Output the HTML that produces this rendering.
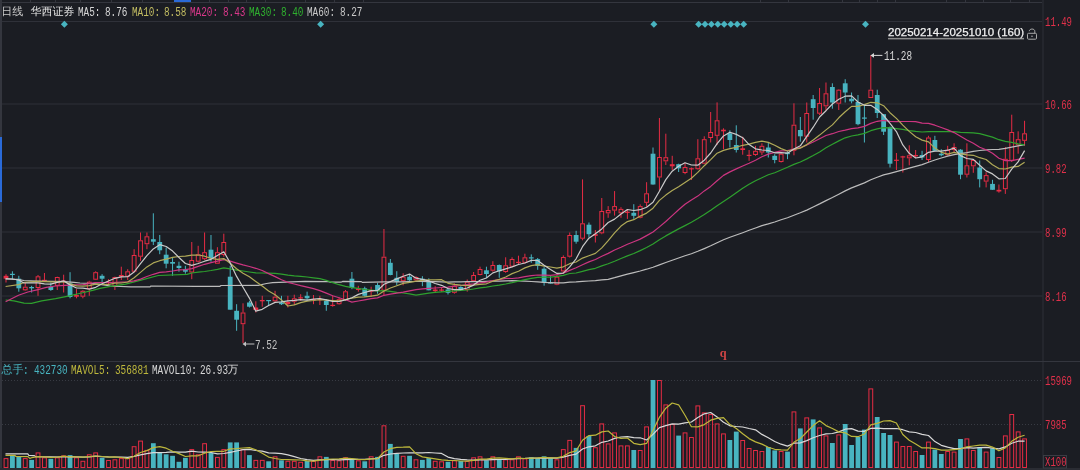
<!DOCTYPE html>
<html><head><meta charset="utf-8">
<style>
html,body{margin:0;padding:0;background:#1b1d23;}
body{width:1080px;height:470px;overflow:hidden;position:relative;}
.a{position:absolute;white-space:pre;line-height:1;}
.m{font-family:"Liberation Mono",monospace;font-size:12px;transform:scaleX(0.78);transform-origin:0 0;}
.cj{font-family:"Liberation Sans","WenQuanYi Zen Hei",sans-serif;font-size:11px;}
svg{position:absolute;left:0;top:0;}
.wrap{position:absolute;left:0;top:0;width:1080px;height:470px;filter:blur(0.4px);}
</style></head><body><div class="wrap">
<svg width="1080" height="470" viewBox="0 0 1080 470">
<rect x="0" y="2" width="1042" height="1" fill="#34363e"/>
<rect x="30" y="0" width="1" height="2" fill="#34363e"/><rect x="55" y="0" width="1" height="2" fill="#34363e"/><rect x="80" y="0" width="1" height="2" fill="#34363e"/><rect x="111" y="0" width="1" height="2" fill="#34363e"/><rect x="142" y="0" width="1" height="2" fill="#34363e"/><rect x="209" y="0" width="1" height="2" fill="#34363e"/><rect x="228" y="0" width="1" height="2" fill="#34363e"/><rect x="246" y="0" width="1" height="2" fill="#34363e"/><rect x="265" y="0" width="1" height="2" fill="#34363e"/><rect x="305" y="0" width="1" height="2" fill="#34363e"/><rect x="334" y="0" width="1" height="2" fill="#34363e"/><rect x="363" y="0" width="1" height="2" fill="#34363e"/><rect x="760" y="0" width="1" height="2" fill="#34363e"/><rect x="788" y="0" width="1" height="2" fill="#34363e"/><rect x="842" y="0" width="1" height="2" fill="#34363e"/><rect x="859" y="0" width="1" height="2" fill="#34363e"/><rect x="877" y="0" width="1" height="2" fill="#34363e"/><rect x="895" y="0" width="1" height="2" fill="#34363e"/><rect x="946" y="0" width="1" height="2" fill="#34363e"/><rect x="965" y="0" width="1" height="2" fill="#34363e"/><rect x="983" y="0" width="1" height="2" fill="#34363e"/><rect x="1010" y="0" width="1" height="2" fill="#34363e"/><rect x="1029" y="0" width="1" height="2" fill="#34363e"/>
<rect x="174" y="0" width="17" height="2" fill="#2a6ad8"/>
<rect x="0" y="0" width="2" height="470" fill="#34363e"/>
<rect x="0" y="137" width="2" height="65" fill="#2a6ad8"/>
<rect x="2" y="21" width="1040" height="1" fill="#2f3139"/>
<rect x="1042.5" y="0" width="1" height="470" fill="#2f3139"/>
<rect x="0" y="361" width="1080" height="1" fill="#34363e"/>
<rect x="0" y="468" width="1080" height="2" fill="#2a2c33"/>
<line x1="2" y1="104" x2="1042.5" y2="104" stroke="#2f3139" stroke-width="1"/>
<line x1="2" y1="168" x2="1042.5" y2="168" stroke="#2f3139" stroke-width="1"/>
<line x1="2" y1="232" x2="1042.5" y2="232" stroke="#2f3139" stroke-width="1"/>
<line x1="2" y1="296" x2="1042.5" y2="296" stroke="#2f3139" stroke-width="1"/>
<line x1="2" y1="380.5" x2="1042" y2="380.5" stroke="#383b43" stroke-width="1" stroke-dasharray="1 2"/>
<line x1="2" y1="424.5" x2="1042" y2="424.5" stroke="#383b43" stroke-width="1" stroke-dasharray="1 2"/>
<line x1="6.00" y1="274.2" x2="6.00" y2="282.5" stroke="#e62c44" stroke-width="1"/>
<rect x="3.60" y="275.8" width="4.8" height="2.9" fill="#e62c44"/>
<line x1="12.41" y1="271.3" x2="12.41" y2="279.2" stroke="#48b4c0" stroke-width="1"/>
<rect x="10.01" y="273.8" width="4.8" height="1.2" fill="#48b4c0"/>
<line x1="18.81" y1="275.8" x2="18.81" y2="291.7" stroke="#48b4c0" stroke-width="1"/>
<rect x="16.41" y="278.7" width="4.8" height="9.6" fill="#48b4c0"/>
<line x1="25.22" y1="282.5" x2="25.22" y2="286.7" stroke="#e62c44" stroke-width="1"/>
<line x1="25.22" y1="290.3" x2="25.22" y2="290.8" stroke="#e62c44" stroke-width="1"/>
<rect x="23.32" y="287.2" width="3.8" height="2.6" fill="none" stroke="#e62c44" stroke-width="1"/>
<line x1="31.62" y1="285.8" x2="31.62" y2="292.5" stroke="#48b4c0" stroke-width="1"/>
<rect x="29.22" y="287.0" width="4.8" height="1.3" fill="#48b4c0"/>
<line x1="38.03" y1="275.0" x2="38.03" y2="276.3" stroke="#e62c44" stroke-width="1"/>
<line x1="38.03" y1="288.0" x2="38.03" y2="295.8" stroke="#e62c44" stroke-width="1"/>
<rect x="36.13" y="276.8" width="3.8" height="10.7" fill="none" stroke="#e62c44" stroke-width="1"/>
<line x1="44.44" y1="273.0" x2="44.44" y2="281.0" stroke="#e62c44" stroke-width="1"/>
<rect x="42.04" y="279.8" width="4.8" height="1.2" fill="#e62c44"/>
<line x1="50.84" y1="282.5" x2="50.84" y2="290.8" stroke="#48b4c0" stroke-width="1"/>
<rect x="48.44" y="286.7" width="4.8" height="3.3" fill="#48b4c0"/>
<line x1="57.25" y1="276.7" x2="57.25" y2="277.0" stroke="#e62c44" stroke-width="1"/>
<line x1="57.25" y1="285.8" x2="57.25" y2="290.0" stroke="#e62c44" stroke-width="1"/>
<rect x="55.35" y="277.5" width="3.8" height="7.8" fill="none" stroke="#e62c44" stroke-width="1"/>
<line x1="63.65" y1="274.7" x2="63.65" y2="292.5" stroke="#e62c44" stroke-width="1"/>
<rect x="61.25" y="280.6" width="4.8" height="1.2" fill="#e62c44"/>
<line x1="70.06" y1="272.2" x2="70.06" y2="298.3" stroke="#48b4c0" stroke-width="1"/>
<rect x="67.66" y="283.3" width="4.8" height="13.7" fill="#48b4c0"/>
<line x1="76.47" y1="289.2" x2="76.47" y2="298.3" stroke="#e62c44" stroke-width="1"/>
<rect x="74.07" y="295.0" width="4.8" height="1.7" fill="#e62c44"/>
<line x1="82.87" y1="290.0" x2="82.87" y2="290.8" stroke="#e62c44" stroke-width="1"/>
<line x1="82.87" y1="296.7" x2="82.87" y2="298.3" stroke="#e62c44" stroke-width="1"/>
<rect x="80.97" y="291.3" width="3.8" height="4.9" fill="none" stroke="#e62c44" stroke-width="1"/>
<line x1="89.28" y1="280.8" x2="89.28" y2="281.7" stroke="#e62c44" stroke-width="1"/>
<line x1="89.28" y1="289.2" x2="89.28" y2="295.8" stroke="#e62c44" stroke-width="1"/>
<rect x="87.38" y="282.2" width="3.8" height="6.5" fill="none" stroke="#e62c44" stroke-width="1"/>
<line x1="95.68" y1="271.3" x2="95.68" y2="272.2" stroke="#e62c44" stroke-width="1"/>
<line x1="95.68" y1="279.7" x2="95.68" y2="280.0" stroke="#e62c44" stroke-width="1"/>
<rect x="93.78" y="272.7" width="3.8" height="6.5" fill="none" stroke="#e62c44" stroke-width="1"/>
<line x1="102.09" y1="274.2" x2="102.09" y2="282.5" stroke="#48b4c0" stroke-width="1"/>
<rect x="99.69" y="275.8" width="4.8" height="2.9" fill="#48b4c0"/>
<line x1="108.50" y1="279.2" x2="108.50" y2="285.0" stroke="#e62c44" stroke-width="1"/>
<rect x="106.10" y="281.7" width="4.8" height="1.6" fill="#e62c44"/>
<line x1="114.90" y1="276.7" x2="114.90" y2="277.0" stroke="#e62c44" stroke-width="1"/>
<line x1="114.90" y1="286.7" x2="114.90" y2="290.0" stroke="#e62c44" stroke-width="1"/>
<rect x="113.00" y="277.5" width="3.8" height="8.7" fill="none" stroke="#e62c44" stroke-width="1"/>
<line x1="121.31" y1="266.7" x2="121.31" y2="280.0" stroke="#e62c44" stroke-width="1"/>
<rect x="118.91" y="275.0" width="4.8" height="1.7" fill="#e62c44"/>
<line x1="127.71" y1="269.2" x2="127.71" y2="271.3" stroke="#e62c44" stroke-width="1"/>
<line x1="127.71" y1="276.7" x2="127.71" y2="280.0" stroke="#e62c44" stroke-width="1"/>
<rect x="125.81" y="271.8" width="3.8" height="4.4" fill="none" stroke="#e62c44" stroke-width="1"/>
<line x1="134.12" y1="249.2" x2="134.12" y2="255.0" stroke="#e62c44" stroke-width="1"/>
<line x1="134.12" y1="271.7" x2="134.12" y2="272.5" stroke="#e62c44" stroke-width="1"/>
<rect x="132.22" y="255.5" width="3.8" height="15.7" fill="none" stroke="#e62c44" stroke-width="1"/>
<line x1="140.53" y1="232.5" x2="140.53" y2="240.3" stroke="#e62c44" stroke-width="1"/>
<line x1="140.53" y1="256.7" x2="140.53" y2="260.8" stroke="#e62c44" stroke-width="1"/>
<rect x="138.63" y="240.8" width="3.8" height="15.4" fill="none" stroke="#e62c44" stroke-width="1"/>
<line x1="146.93" y1="232.5" x2="146.93" y2="236.3" stroke="#e62c44" stroke-width="1"/>
<line x1="146.93" y1="244.2" x2="146.93" y2="249.2" stroke="#e62c44" stroke-width="1"/>
<rect x="145.03" y="236.8" width="3.8" height="6.9" fill="none" stroke="#e62c44" stroke-width="1"/>
<line x1="153.34" y1="213.3" x2="153.34" y2="245.0" stroke="#48b4c0" stroke-width="1"/>
<rect x="150.94" y="239.2" width="4.8" height="2.5" fill="#48b4c0"/>
<line x1="159.74" y1="235.0" x2="159.74" y2="254.2" stroke="#48b4c0" stroke-width="1"/>
<rect x="157.34" y="242.0" width="4.8" height="8.3" fill="#48b4c0"/>
<line x1="166.15" y1="247.5" x2="166.15" y2="268.3" stroke="#48b4c0" stroke-width="1"/>
<rect x="163.75" y="254.7" width="4.8" height="9.0" fill="#48b4c0"/>
<line x1="172.56" y1="258.0" x2="172.56" y2="275.8" stroke="#48b4c0" stroke-width="1"/>
<rect x="170.16" y="262.0" width="4.8" height="1.7" fill="#48b4c0"/>
<line x1="178.96" y1="261.7" x2="178.96" y2="271.7" stroke="#48b4c0" stroke-width="1"/>
<rect x="176.56" y="265.8" width="4.8" height="2.2" fill="#48b4c0"/>
<line x1="185.37" y1="265.8" x2="185.37" y2="273.7" stroke="#48b4c0" stroke-width="1"/>
<rect x="182.97" y="269.2" width="4.8" height="2.5" fill="#48b4c0"/>
<line x1="191.77" y1="242.0" x2="191.77" y2="260.0" stroke="#e62c44" stroke-width="1"/>
<line x1="191.77" y1="272.5" x2="191.77" y2="279.2" stroke="#e62c44" stroke-width="1"/>
<rect x="189.87" y="260.5" width="3.8" height="11.5" fill="none" stroke="#e62c44" stroke-width="1"/>
<line x1="198.18" y1="245.8" x2="198.18" y2="254.2" stroke="#e62c44" stroke-width="1"/>
<line x1="198.18" y1="261.7" x2="198.18" y2="262.5" stroke="#e62c44" stroke-width="1"/>
<rect x="196.28" y="254.7" width="3.8" height="6.5" fill="none" stroke="#e62c44" stroke-width="1"/>
<line x1="204.59" y1="232.5" x2="204.59" y2="252.2" stroke="#e62c44" stroke-width="1"/>
<line x1="204.59" y1="259.2" x2="204.59" y2="260.0" stroke="#e62c44" stroke-width="1"/>
<rect x="202.69" y="252.7" width="3.8" height="6.0" fill="none" stroke="#e62c44" stroke-width="1"/>
<line x1="210.99" y1="235.0" x2="210.99" y2="261.7" stroke="#48b4c0" stroke-width="1"/>
<rect x="208.59" y="249.7" width="4.8" height="8.6" fill="#48b4c0"/>
<line x1="217.40" y1="247.2" x2="217.40" y2="252.2" stroke="#e62c44" stroke-width="1"/>
<line x1="217.40" y1="263.7" x2="217.40" y2="263.7" stroke="#e62c44" stroke-width="1"/>
<rect x="215.50" y="252.7" width="3.8" height="10.5" fill="none" stroke="#e62c44" stroke-width="1"/>
<line x1="223.80" y1="233.7" x2="223.80" y2="242.0" stroke="#e62c44" stroke-width="1"/>
<line x1="223.80" y1="255.0" x2="223.80" y2="256.7" stroke="#e62c44" stroke-width="1"/>
<rect x="221.90" y="242.5" width="3.8" height="12.0" fill="none" stroke="#e62c44" stroke-width="1"/>
<line x1="230.21" y1="265.8" x2="230.21" y2="309.7" stroke="#48b4c0" stroke-width="1"/>
<rect x="227.81" y="276.7" width="4.8" height="33.0" fill="#48b4c0"/>
<line x1="236.62" y1="304.2" x2="236.62" y2="330.8" stroke="#48b4c0" stroke-width="1"/>
<rect x="234.22" y="310.8" width="4.8" height="8.9" fill="#48b4c0"/>
<line x1="243.02" y1="303.3" x2="243.02" y2="312.5" stroke="#e62c44" stroke-width="1"/>
<line x1="243.02" y1="324.2" x2="243.02" y2="343.0" stroke="#e62c44" stroke-width="1"/>
<rect x="241.12" y="313.0" width="3.8" height="10.7" fill="none" stroke="#e62c44" stroke-width="1"/>
<line x1="249.43" y1="300.8" x2="249.43" y2="307.5" stroke="#48b4c0" stroke-width="1"/>
<rect x="247.03" y="302.5" width="4.8" height="4.2" fill="#48b4c0"/>
<line x1="255.83" y1="301.3" x2="255.83" y2="312.5" stroke="#e62c44" stroke-width="1"/>
<rect x="253.43" y="307.5" width="4.8" height="2.5" fill="#e62c44"/>
<line x1="262.24" y1="295.8" x2="262.24" y2="306.7" stroke="#e62c44" stroke-width="1"/>
<rect x="259.84" y="300.0" width="4.8" height="1.3" fill="#e62c44"/>
<line x1="268.65" y1="300.3" x2="268.65" y2="305.8" stroke="#48b4c0" stroke-width="1"/>
<rect x="266.25" y="300.0" width="4.8" height="1.2" fill="#48b4c0"/>
<line x1="275.05" y1="290.8" x2="275.05" y2="296.7" stroke="#e62c44" stroke-width="1"/>
<line x1="275.05" y1="301.3" x2="275.05" y2="302.0" stroke="#e62c44" stroke-width="1"/>
<rect x="273.15" y="297.2" width="3.8" height="3.6" fill="none" stroke="#e62c44" stroke-width="1"/>
<line x1="281.46" y1="295.8" x2="281.46" y2="305.0" stroke="#48b4c0" stroke-width="1"/>
<rect x="279.06" y="302.5" width="4.8" height="1.7" fill="#48b4c0"/>
<line x1="287.86" y1="295.8" x2="287.86" y2="307.5" stroke="#e62c44" stroke-width="1"/>
<rect x="285.46" y="302.0" width="4.8" height="2.2" fill="#e62c44"/>
<line x1="294.27" y1="294.7" x2="294.27" y2="298.3" stroke="#e62c44" stroke-width="1"/>
<line x1="294.27" y1="301.7" x2="294.27" y2="305.0" stroke="#e62c44" stroke-width="1"/>
<rect x="292.37" y="298.8" width="3.8" height="2.4" fill="none" stroke="#e62c44" stroke-width="1"/>
<line x1="300.68" y1="294.2" x2="300.68" y2="300.8" stroke="#e62c44" stroke-width="1"/>
<rect x="298.28" y="297.3" width="4.8" height="1.2" fill="#e62c44"/>
<line x1="307.08" y1="291.7" x2="307.08" y2="300.0" stroke="#48b4c0" stroke-width="1"/>
<rect x="304.68" y="295.8" width="4.8" height="2.5" fill="#48b4c0"/>
<line x1="313.49" y1="295.0" x2="313.49" y2="304.2" stroke="#e62c44" stroke-width="1"/>
<rect x="311.09" y="299.1" width="4.8" height="1.2" fill="#e62c44"/>
<line x1="319.89" y1="295.8" x2="319.89" y2="305.0" stroke="#e62c44" stroke-width="1"/>
<rect x="317.49" y="299.0" width="4.8" height="1.2" fill="#e62c44"/>
<line x1="326.30" y1="299.2" x2="326.30" y2="310.8" stroke="#48b4c0" stroke-width="1"/>
<rect x="323.90" y="300.8" width="4.8" height="4.2" fill="#48b4c0"/>
<line x1="332.71" y1="295.8" x2="332.71" y2="306.7" stroke="#e62c44" stroke-width="1"/>
<rect x="330.31" y="304.8" width="4.8" height="1.2" fill="#e62c44"/>
<line x1="339.11" y1="297.5" x2="339.11" y2="299.2" stroke="#e62c44" stroke-width="1"/>
<line x1="339.11" y1="304.2" x2="339.11" y2="304.7" stroke="#e62c44" stroke-width="1"/>
<rect x="337.21" y="299.7" width="3.8" height="4.0" fill="none" stroke="#e62c44" stroke-width="1"/>
<line x1="345.52" y1="290.0" x2="345.52" y2="291.3" stroke="#e62c44" stroke-width="1"/>
<line x1="345.52" y1="300.0" x2="345.52" y2="300.8" stroke="#e62c44" stroke-width="1"/>
<rect x="343.62" y="291.8" width="3.8" height="7.7" fill="none" stroke="#e62c44" stroke-width="1"/>
<line x1="351.92" y1="272.0" x2="351.92" y2="289.2" stroke="#48b4c0" stroke-width="1"/>
<rect x="349.52" y="278.7" width="4.8" height="9.3" fill="#48b4c0"/>
<line x1="358.33" y1="285.8" x2="358.33" y2="291.7" stroke="#e62c44" stroke-width="1"/>
<rect x="355.93" y="288.3" width="4.8" height="1.7" fill="#e62c44"/>
<line x1="364.74" y1="286.7" x2="364.74" y2="296.7" stroke="#48b4c0" stroke-width="1"/>
<rect x="362.34" y="288.3" width="4.8" height="7.5" fill="#48b4c0"/>
<line x1="371.14" y1="286.7" x2="371.14" y2="296.7" stroke="#e62c44" stroke-width="1"/>
<rect x="368.74" y="290.0" width="4.8" height="1.7" fill="#e62c44"/>
<line x1="377.55" y1="282.8" x2="377.55" y2="293.7" stroke="#48b4c0" stroke-width="1"/>
<rect x="375.15" y="285.0" width="4.8" height="5.7" fill="#48b4c0"/>
<line x1="383.95" y1="229.0" x2="383.95" y2="256.7" stroke="#e62c44" stroke-width="1"/>
<line x1="383.95" y1="290.7" x2="383.95" y2="295.3" stroke="#e62c44" stroke-width="1"/>
<rect x="382.05" y="257.2" width="3.8" height="33.0" fill="none" stroke="#e62c44" stroke-width="1"/>
<line x1="390.36" y1="259.0" x2="390.36" y2="275.3" stroke="#48b4c0" stroke-width="1"/>
<rect x="387.96" y="262.8" width="4.8" height="12.2" fill="#48b4c0"/>
<line x1="396.77" y1="271.2" x2="396.77" y2="285.3" stroke="#48b4c0" stroke-width="1"/>
<rect x="394.37" y="277.8" width="4.8" height="4.2" fill="#48b4c0"/>
<line x1="403.17" y1="273.3" x2="403.17" y2="276.7" stroke="#e62c44" stroke-width="1"/>
<line x1="403.17" y1="281.2" x2="403.17" y2="285.3" stroke="#e62c44" stroke-width="1"/>
<rect x="401.27" y="277.2" width="3.8" height="3.5" fill="none" stroke="#e62c44" stroke-width="1"/>
<line x1="409.58" y1="275.0" x2="409.58" y2="281.2" stroke="#48b4c0" stroke-width="1"/>
<rect x="407.18" y="276.7" width="4.8" height="3.6" fill="#48b4c0"/>
<line x1="415.98" y1="276.2" x2="415.98" y2="277.0" stroke="#e62c44" stroke-width="1"/>
<line x1="415.98" y1="280.3" x2="415.98" y2="281.2" stroke="#e62c44" stroke-width="1"/>
<rect x="414.08" y="277.5" width="3.8" height="2.3" fill="none" stroke="#e62c44" stroke-width="1"/>
<line x1="422.39" y1="276.2" x2="422.39" y2="286.2" stroke="#48b4c0" stroke-width="1"/>
<rect x="419.99" y="278.7" width="4.8" height="1.6" fill="#48b4c0"/>
<line x1="428.80" y1="278.3" x2="428.80" y2="290.3" stroke="#48b4c0" stroke-width="1"/>
<rect x="426.40" y="282.0" width="4.8" height="8.3" fill="#48b4c0"/>
<line x1="435.20" y1="286.2" x2="435.20" y2="292.8" stroke="#e62c44" stroke-width="1"/>
<rect x="432.80" y="289.5" width="4.8" height="1.7" fill="#e62c44"/>
<line x1="441.61" y1="287.8" x2="441.61" y2="292.0" stroke="#e62c44" stroke-width="1"/>
<rect x="439.21" y="289.5" width="4.8" height="1.2" fill="#e62c44"/>
<line x1="448.01" y1="287.8" x2="448.01" y2="294.5" stroke="#48b4c0" stroke-width="1"/>
<rect x="445.61" y="289.5" width="4.8" height="3.3" fill="#48b4c0"/>
<line x1="454.42" y1="283.3" x2="454.42" y2="285.7" stroke="#e62c44" stroke-width="1"/>
<line x1="454.42" y1="292.8" x2="454.42" y2="293.7" stroke="#e62c44" stroke-width="1"/>
<rect x="452.52" y="286.2" width="3.8" height="6.1" fill="none" stroke="#e62c44" stroke-width="1"/>
<line x1="460.83" y1="286.2" x2="460.83" y2="290.7" stroke="#48b4c0" stroke-width="1"/>
<rect x="458.43" y="287.0" width="4.8" height="3.3" fill="#48b4c0"/>
<line x1="467.23" y1="279.5" x2="467.23" y2="281.7" stroke="#e62c44" stroke-width="1"/>
<line x1="467.23" y1="290.0" x2="467.23" y2="291.7" stroke="#e62c44" stroke-width="1"/>
<rect x="465.33" y="282.2" width="3.8" height="7.3" fill="none" stroke="#e62c44" stroke-width="1"/>
<line x1="473.64" y1="272.0" x2="473.64" y2="275.0" stroke="#e62c44" stroke-width="1"/>
<line x1="473.64" y1="281.2" x2="473.64" y2="282.0" stroke="#e62c44" stroke-width="1"/>
<rect x="471.74" y="275.5" width="3.8" height="5.2" fill="none" stroke="#e62c44" stroke-width="1"/>
<line x1="480.04" y1="266.7" x2="480.04" y2="269.0" stroke="#e62c44" stroke-width="1"/>
<line x1="480.04" y1="275.0" x2="480.04" y2="275.3" stroke="#e62c44" stroke-width="1"/>
<rect x="478.14" y="269.5" width="3.8" height="5.0" fill="none" stroke="#e62c44" stroke-width="1"/>
<line x1="486.45" y1="266.7" x2="486.45" y2="277.8" stroke="#48b4c0" stroke-width="1"/>
<rect x="484.05" y="270.3" width="4.8" height="3.7" fill="#48b4c0"/>
<line x1="492.86" y1="261.2" x2="492.86" y2="265.0" stroke="#e62c44" stroke-width="1"/>
<line x1="492.86" y1="270.7" x2="492.86" y2="271.7" stroke="#e62c44" stroke-width="1"/>
<rect x="490.96" y="265.5" width="3.8" height="4.7" fill="none" stroke="#e62c44" stroke-width="1"/>
<line x1="499.26" y1="264.5" x2="499.26" y2="277.8" stroke="#48b4c0" stroke-width="1"/>
<rect x="496.86" y="265.0" width="4.8" height="6.2" fill="#48b4c0"/>
<line x1="505.67" y1="257.3" x2="505.67" y2="265.3" stroke="#e62c44" stroke-width="1"/>
<line x1="505.67" y1="272.0" x2="505.67" y2="272.8" stroke="#e62c44" stroke-width="1"/>
<rect x="503.77" y="265.8" width="3.8" height="5.7" fill="none" stroke="#e62c44" stroke-width="1"/>
<line x1="512.07" y1="257.3" x2="512.07" y2="259.0" stroke="#e62c44" stroke-width="1"/>
<line x1="512.07" y1="266.7" x2="512.07" y2="267.3" stroke="#e62c44" stroke-width="1"/>
<rect x="510.17" y="259.5" width="3.8" height="6.7" fill="none" stroke="#e62c44" stroke-width="1"/>
<line x1="518.48" y1="255.7" x2="518.48" y2="264.5" stroke="#e62c44" stroke-width="1"/>
<rect x="516.08" y="261.8" width="4.8" height="1.2" fill="#e62c44"/>
<line x1="524.89" y1="253.7" x2="524.89" y2="257.3" stroke="#e62c44" stroke-width="1"/>
<line x1="524.89" y1="262.8" x2="524.89" y2="263.7" stroke="#e62c44" stroke-width="1"/>
<rect x="522.99" y="257.8" width="3.8" height="4.5" fill="none" stroke="#e62c44" stroke-width="1"/>
<line x1="531.29" y1="254.4" x2="531.29" y2="262.9" stroke="#48b4c0" stroke-width="1"/>
<rect x="528.89" y="257.3" width="4.8" height="1.2" fill="#48b4c0"/>
<line x1="537.70" y1="258.0" x2="537.70" y2="269.8" stroke="#48b4c0" stroke-width="1"/>
<rect x="535.30" y="259.1" width="4.8" height="6.9" fill="#48b4c0"/>
<line x1="544.10" y1="267.1" x2="544.10" y2="285.7" stroke="#48b4c0" stroke-width="1"/>
<rect x="541.70" y="268.7" width="4.8" height="13.9" fill="#48b4c0"/>
<line x1="550.51" y1="276.2" x2="550.51" y2="283.6" stroke="#48b4c0" stroke-width="1"/>
<rect x="548.11" y="282.4" width="4.8" height="1.2" fill="#48b4c0"/>
<line x1="556.92" y1="275.1" x2="556.92" y2="276.7" stroke="#e62c44" stroke-width="1"/>
<line x1="556.92" y1="284.7" x2="556.92" y2="285.2" stroke="#e62c44" stroke-width="1"/>
<rect x="555.02" y="277.2" width="3.8" height="7.0" fill="none" stroke="#e62c44" stroke-width="1"/>
<line x1="563.32" y1="255.4" x2="563.32" y2="257.0" stroke="#e62c44" stroke-width="1"/>
<line x1="563.32" y1="271.4" x2="563.32" y2="272.4" stroke="#e62c44" stroke-width="1"/>
<rect x="561.42" y="257.5" width="3.8" height="13.4" fill="none" stroke="#e62c44" stroke-width="1"/>
<line x1="569.73" y1="232.5" x2="569.73" y2="235.0" stroke="#e62c44" stroke-width="1"/>
<line x1="569.73" y1="256.7" x2="569.73" y2="257.5" stroke="#e62c44" stroke-width="1"/>
<rect x="567.83" y="235.5" width="3.8" height="20.7" fill="none" stroke="#e62c44" stroke-width="1"/>
<line x1="576.13" y1="230.8" x2="576.13" y2="243.7" stroke="#48b4c0" stroke-width="1"/>
<rect x="573.73" y="235.0" width="4.8" height="6.7" fill="#48b4c0"/>
<line x1="582.54" y1="179.4" x2="582.54" y2="223.3" stroke="#e62c44" stroke-width="1"/>
<line x1="582.54" y1="238.7" x2="582.54" y2="240.3" stroke="#e62c44" stroke-width="1"/>
<rect x="580.64" y="223.8" width="3.8" height="14.4" fill="none" stroke="#e62c44" stroke-width="1"/>
<line x1="588.95" y1="222.5" x2="588.95" y2="237.5" stroke="#48b4c0" stroke-width="1"/>
<rect x="586.55" y="224.7" width="4.8" height="9.5" fill="#48b4c0"/>
<line x1="595.35" y1="230.0" x2="595.35" y2="242.5" stroke="#e62c44" stroke-width="1"/>
<rect x="592.95" y="234.2" width="4.8" height="1.6" fill="#e62c44"/>
<line x1="601.76" y1="198.0" x2="601.76" y2="211.0" stroke="#e62c44" stroke-width="1"/>
<line x1="601.76" y1="233.3" x2="601.76" y2="234.2" stroke="#e62c44" stroke-width="1"/>
<rect x="599.86" y="211.5" width="3.8" height="21.3" fill="none" stroke="#e62c44" stroke-width="1"/>
<line x1="608.16" y1="206.1" x2="608.16" y2="210.0" stroke="#e62c44" stroke-width="1"/>
<line x1="608.16" y1="213.3" x2="608.16" y2="217.8" stroke="#e62c44" stroke-width="1"/>
<rect x="606.26" y="210.5" width="3.8" height="2.3" fill="none" stroke="#e62c44" stroke-width="1"/>
<line x1="614.57" y1="191.1" x2="614.57" y2="206.1" stroke="#e62c44" stroke-width="1"/>
<line x1="614.57" y1="210.6" x2="614.57" y2="215.6" stroke="#e62c44" stroke-width="1"/>
<rect x="612.67" y="206.6" width="3.8" height="3.5" fill="none" stroke="#e62c44" stroke-width="1"/>
<line x1="620.98" y1="207.2" x2="620.98" y2="208.9" stroke="#e62c44" stroke-width="1"/>
<line x1="620.98" y1="213.3" x2="620.98" y2="217.8" stroke="#e62c44" stroke-width="1"/>
<rect x="619.08" y="209.4" width="3.8" height="3.4" fill="none" stroke="#e62c44" stroke-width="1"/>
<line x1="627.38" y1="209.4" x2="627.38" y2="218.9" stroke="#e62c44" stroke-width="1"/>
<rect x="624.98" y="211.7" width="4.8" height="1.2" fill="#e62c44"/>
<line x1="633.79" y1="204.2" x2="633.79" y2="218.9" stroke="#48b4c0" stroke-width="1"/>
<rect x="631.39" y="212.8" width="4.8" height="3.0" fill="#48b4c0"/>
<line x1="640.19" y1="204.4" x2="640.19" y2="206.1" stroke="#e62c44" stroke-width="1"/>
<line x1="640.19" y1="217.8" x2="640.19" y2="218.3" stroke="#e62c44" stroke-width="1"/>
<rect x="638.29" y="206.6" width="3.8" height="10.7" fill="none" stroke="#e62c44" stroke-width="1"/>
<line x1="646.60" y1="182.2" x2="646.60" y2="193.3" stroke="#e62c44" stroke-width="1"/>
<line x1="646.60" y1="202.8" x2="646.60" y2="206.7" stroke="#e62c44" stroke-width="1"/>
<rect x="644.70" y="193.8" width="3.8" height="8.5" fill="none" stroke="#e62c44" stroke-width="1"/>
<line x1="653.01" y1="147.5" x2="653.01" y2="184.7" stroke="#48b4c0" stroke-width="1"/>
<rect x="650.61" y="153.7" width="4.8" height="30.8" fill="#48b4c0"/>
<line x1="659.41" y1="118.0" x2="659.41" y2="157.0" stroke="#e62c44" stroke-width="1"/>
<line x1="659.41" y1="177.5" x2="659.41" y2="190.6" stroke="#e62c44" stroke-width="1"/>
<rect x="657.51" y="157.5" width="3.8" height="19.5" fill="none" stroke="#e62c44" stroke-width="1"/>
<line x1="665.82" y1="133.7" x2="665.82" y2="157.2" stroke="#e62c44" stroke-width="1"/>
<line x1="665.82" y1="161.3" x2="665.82" y2="165.0" stroke="#e62c44" stroke-width="1"/>
<rect x="663.92" y="157.7" width="3.8" height="3.1" fill="none" stroke="#e62c44" stroke-width="1"/>
<line x1="672.22" y1="155.8" x2="672.22" y2="170.0" stroke="#e62c44" stroke-width="1"/>
<rect x="669.82" y="164.2" width="4.8" height="2.1" fill="#e62c44"/>
<line x1="678.63" y1="163.7" x2="678.63" y2="172.0" stroke="#48b4c0" stroke-width="1"/>
<rect x="676.23" y="164.2" width="4.8" height="4.1" fill="#48b4c0"/>
<line x1="685.04" y1="163.0" x2="685.04" y2="167.0" stroke="#e62c44" stroke-width="1"/>
<line x1="685.04" y1="173.0" x2="685.04" y2="174.2" stroke="#e62c44" stroke-width="1"/>
<rect x="683.14" y="167.5" width="3.8" height="5.0" fill="none" stroke="#e62c44" stroke-width="1"/>
<line x1="691.44" y1="167.5" x2="691.44" y2="180.0" stroke="#e62c44" stroke-width="1"/>
<rect x="689.04" y="168.2" width="4.8" height="1.2" fill="#e62c44"/>
<line x1="697.85" y1="139.2" x2="697.85" y2="158.3" stroke="#e62c44" stroke-width="1"/>
<line x1="697.85" y1="169.2" x2="697.85" y2="169.7" stroke="#e62c44" stroke-width="1"/>
<rect x="695.95" y="158.8" width="3.8" height="9.9" fill="none" stroke="#e62c44" stroke-width="1"/>
<line x1="704.25" y1="136.3" x2="704.25" y2="139.2" stroke="#e62c44" stroke-width="1"/>
<line x1="704.25" y1="163.7" x2="704.25" y2="164.2" stroke="#e62c44" stroke-width="1"/>
<rect x="702.35" y="139.7" width="3.8" height="23.5" fill="none" stroke="#e62c44" stroke-width="1"/>
<line x1="710.66" y1="112.0" x2="710.66" y2="132.0" stroke="#e62c44" stroke-width="1"/>
<line x1="710.66" y1="138.0" x2="710.66" y2="142.5" stroke="#e62c44" stroke-width="1"/>
<rect x="708.76" y="132.5" width="3.8" height="5.0" fill="none" stroke="#e62c44" stroke-width="1"/>
<line x1="717.07" y1="102.4" x2="717.07" y2="120.3" stroke="#e62c44" stroke-width="1"/>
<line x1="717.07" y1="135.8" x2="717.07" y2="145.0" stroke="#e62c44" stroke-width="1"/>
<rect x="715.17" y="120.8" width="3.8" height="14.5" fill="none" stroke="#e62c44" stroke-width="1"/>
<line x1="723.47" y1="128.3" x2="723.47" y2="149.2" stroke="#e62c44" stroke-width="1"/>
<rect x="721.07" y="129.7" width="4.8" height="1.6" fill="#e62c44"/>
<line x1="729.88" y1="130.3" x2="729.88" y2="147.5" stroke="#48b4c0" stroke-width="1"/>
<rect x="727.48" y="133.3" width="4.8" height="6.7" fill="#48b4c0"/>
<line x1="736.28" y1="125.3" x2="736.28" y2="152.5" stroke="#48b4c0" stroke-width="1"/>
<rect x="733.88" y="145.0" width="4.8" height="5.0" fill="#48b4c0"/>
<line x1="742.69" y1="136.7" x2="742.69" y2="154.7" stroke="#e62c44" stroke-width="1"/>
<rect x="740.29" y="148.3" width="4.8" height="1.7" fill="#e62c44"/>
<line x1="749.10" y1="150.0" x2="749.10" y2="160.8" stroke="#e62c44" stroke-width="1"/>
<rect x="746.70" y="154.8" width="4.8" height="1.2" fill="#e62c44"/>
<line x1="755.50" y1="145.8" x2="755.50" y2="150.8" stroke="#e62c44" stroke-width="1"/>
<line x1="755.50" y1="155.0" x2="755.50" y2="155.8" stroke="#e62c44" stroke-width="1"/>
<rect x="753.60" y="151.3" width="3.8" height="3.2" fill="none" stroke="#e62c44" stroke-width="1"/>
<line x1="761.91" y1="143.3" x2="761.91" y2="145.8" stroke="#e62c44" stroke-width="1"/>
<line x1="761.91" y1="152.5" x2="761.91" y2="155.0" stroke="#e62c44" stroke-width="1"/>
<rect x="760.01" y="146.3" width="3.8" height="5.7" fill="none" stroke="#e62c44" stroke-width="1"/>
<line x1="768.31" y1="142.5" x2="768.31" y2="157.5" stroke="#48b4c0" stroke-width="1"/>
<rect x="765.91" y="147.5" width="4.8" height="5.0" fill="#48b4c0"/>
<line x1="774.72" y1="154.2" x2="774.72" y2="163.3" stroke="#48b4c0" stroke-width="1"/>
<rect x="772.32" y="155.8" width="4.8" height="4.2" fill="#48b4c0"/>
<line x1="781.13" y1="152.5" x2="781.13" y2="153.7" stroke="#e62c44" stroke-width="1"/>
<line x1="781.13" y1="162.0" x2="781.13" y2="162.5" stroke="#e62c44" stroke-width="1"/>
<rect x="779.23" y="154.2" width="3.8" height="7.3" fill="none" stroke="#e62c44" stroke-width="1"/>
<line x1="787.53" y1="150.8" x2="787.53" y2="159.2" stroke="#48b4c0" stroke-width="1"/>
<rect x="785.13" y="152.5" width="4.8" height="1.7" fill="#48b4c0"/>
<line x1="793.94" y1="103.3" x2="793.94" y2="124.7" stroke="#e62c44" stroke-width="1"/>
<line x1="793.94" y1="150.8" x2="793.94" y2="155.3" stroke="#e62c44" stroke-width="1"/>
<rect x="792.04" y="125.2" width="3.8" height="25.1" fill="none" stroke="#e62c44" stroke-width="1"/>
<line x1="800.34" y1="117.0" x2="800.34" y2="141.7" stroke="#48b4c0" stroke-width="1"/>
<rect x="797.94" y="130.0" width="4.8" height="6.3" fill="#48b4c0"/>
<line x1="806.75" y1="102.5" x2="806.75" y2="113.0" stroke="#e62c44" stroke-width="1"/>
<line x1="806.75" y1="136.7" x2="806.75" y2="142.5" stroke="#e62c44" stroke-width="1"/>
<rect x="804.85" y="113.5" width="3.8" height="22.7" fill="none" stroke="#e62c44" stroke-width="1"/>
<line x1="813.16" y1="95.0" x2="813.16" y2="119.7" stroke="#48b4c0" stroke-width="1"/>
<rect x="810.76" y="99.2" width="4.8" height="8.8" fill="#48b4c0"/>
<line x1="819.56" y1="88.0" x2="819.56" y2="103.0" stroke="#e62c44" stroke-width="1"/>
<line x1="819.56" y1="113.7" x2="819.56" y2="115.0" stroke="#e62c44" stroke-width="1"/>
<rect x="817.66" y="103.5" width="3.8" height="9.7" fill="none" stroke="#e62c44" stroke-width="1"/>
<line x1="825.97" y1="82.5" x2="825.97" y2="93.3" stroke="#e62c44" stroke-width="1"/>
<line x1="825.97" y1="106.3" x2="825.97" y2="110.8" stroke="#e62c44" stroke-width="1"/>
<rect x="824.07" y="93.8" width="3.8" height="12.0" fill="none" stroke="#e62c44" stroke-width="1"/>
<line x1="832.37" y1="83.3" x2="832.37" y2="108.7" stroke="#48b4c0" stroke-width="1"/>
<rect x="829.97" y="87.0" width="4.8" height="15.5" fill="#48b4c0"/>
<line x1="838.78" y1="89.2" x2="838.78" y2="89.7" stroke="#e62c44" stroke-width="1"/>
<line x1="838.78" y1="103.7" x2="838.78" y2="110.0" stroke="#e62c44" stroke-width="1"/>
<rect x="836.88" y="90.2" width="3.8" height="13.0" fill="none" stroke="#e62c44" stroke-width="1"/>
<line x1="845.19" y1="79.2" x2="845.19" y2="102.5" stroke="#48b4c0" stroke-width="1"/>
<rect x="842.79" y="83.3" width="4.8" height="9.2" fill="#48b4c0"/>
<line x1="851.59" y1="92.5" x2="851.59" y2="103.3" stroke="#48b4c0" stroke-width="1"/>
<rect x="849.19" y="98.7" width="4.8" height="2.6" fill="#48b4c0"/>
<line x1="858.00" y1="95.0" x2="858.00" y2="125.3" stroke="#48b4c0" stroke-width="1"/>
<rect x="855.60" y="102.0" width="4.8" height="22.2" fill="#48b4c0"/>
<line x1="864.40" y1="105.0" x2="864.40" y2="142.5" stroke="#48b4c0" stroke-width="1"/>
<rect x="862.00" y="117.5" width="4.8" height="1.2" fill="#48b4c0"/>
<line x1="870.81" y1="55.3" x2="870.81" y2="89.7" stroke="#e62c44" stroke-width="1"/>
<line x1="870.81" y1="98.0" x2="870.81" y2="98.0" stroke="#e62c44" stroke-width="1"/>
<rect x="868.91" y="90.2" width="3.8" height="7.3" fill="none" stroke="#e62c44" stroke-width="1"/>
<line x1="877.22" y1="89.7" x2="877.22" y2="118.0" stroke="#48b4c0" stroke-width="1"/>
<rect x="874.82" y="95.0" width="4.8" height="18.0" fill="#48b4c0"/>
<line x1="883.62" y1="114.0" x2="883.62" y2="135.0" stroke="#48b4c0" stroke-width="1"/>
<rect x="881.22" y="114.2" width="4.8" height="17.5" fill="#48b4c0"/>
<line x1="890.03" y1="126.5" x2="890.03" y2="167.5" stroke="#48b4c0" stroke-width="1"/>
<rect x="887.63" y="127.1" width="4.8" height="36.6" fill="#48b4c0"/>
<line x1="896.43" y1="153.0" x2="896.43" y2="170.0" stroke="#e62c44" stroke-width="1"/>
<rect x="894.03" y="159.7" width="4.8" height="1.2" fill="#e62c44"/>
<line x1="902.84" y1="155.8" x2="902.84" y2="172.5" stroke="#e62c44" stroke-width="1"/>
<rect x="900.44" y="156.3" width="4.8" height="1.2" fill="#e62c44"/>
<line x1="909.25" y1="145.3" x2="909.25" y2="155.3" stroke="#e62c44" stroke-width="1"/>
<line x1="909.25" y1="158.3" x2="909.25" y2="165.3" stroke="#e62c44" stroke-width="1"/>
<rect x="907.35" y="155.8" width="3.8" height="2.0" fill="none" stroke="#e62c44" stroke-width="1"/>
<line x1="915.65" y1="150.0" x2="915.65" y2="158.3" stroke="#e62c44" stroke-width="1"/>
<rect x="913.25" y="155.0" width="4.8" height="1.3" fill="#e62c44"/>
<line x1="922.06" y1="150.8" x2="922.06" y2="160.0" stroke="#48b4c0" stroke-width="1"/>
<rect x="919.66" y="155.0" width="4.8" height="2.5" fill="#48b4c0"/>
<line x1="928.46" y1="135.8" x2="928.46" y2="137.5" stroke="#e62c44" stroke-width="1"/>
<line x1="928.46" y1="160.0" x2="928.46" y2="162.0" stroke="#e62c44" stroke-width="1"/>
<rect x="926.56" y="138.0" width="3.8" height="21.5" fill="none" stroke="#e62c44" stroke-width="1"/>
<line x1="934.87" y1="135.8" x2="934.87" y2="151.3" stroke="#48b4c0" stroke-width="1"/>
<rect x="932.47" y="140.0" width="4.8" height="10.8" fill="#48b4c0"/>
<line x1="941.28" y1="149.2" x2="941.28" y2="156.3" stroke="#48b4c0" stroke-width="1"/>
<rect x="938.88" y="153.7" width="4.8" height="1.6" fill="#48b4c0"/>
<line x1="947.68" y1="145.8" x2="947.68" y2="150.0" stroke="#e62c44" stroke-width="1"/>
<line x1="947.68" y1="155.3" x2="947.68" y2="155.8" stroke="#e62c44" stroke-width="1"/>
<rect x="945.78" y="150.5" width="3.8" height="4.3" fill="none" stroke="#e62c44" stroke-width="1"/>
<line x1="954.09" y1="143.3" x2="954.09" y2="147.0" stroke="#e62c44" stroke-width="1"/>
<line x1="954.09" y1="150.0" x2="954.09" y2="152.5" stroke="#e62c44" stroke-width="1"/>
<rect x="952.19" y="147.5" width="3.8" height="2.0" fill="none" stroke="#e62c44" stroke-width="1"/>
<line x1="960.49" y1="149.2" x2="960.49" y2="179.2" stroke="#48b4c0" stroke-width="1"/>
<rect x="958.09" y="149.7" width="4.8" height="25.0" fill="#48b4c0"/>
<line x1="966.90" y1="143.3" x2="966.90" y2="165.3" stroke="#e62c44" stroke-width="1"/>
<line x1="966.90" y1="174.7" x2="966.90" y2="177.5" stroke="#e62c44" stroke-width="1"/>
<rect x="965.00" y="165.8" width="3.8" height="8.4" fill="none" stroke="#e62c44" stroke-width="1"/>
<line x1="973.31" y1="159.2" x2="973.31" y2="160.0" stroke="#e62c44" stroke-width="1"/>
<line x1="973.31" y1="166.3" x2="973.31" y2="172.8" stroke="#e62c44" stroke-width="1"/>
<rect x="971.41" y="160.5" width="3.8" height="5.3" fill="none" stroke="#e62c44" stroke-width="1"/>
<line x1="979.71" y1="160.5" x2="979.71" y2="187.4" stroke="#48b4c0" stroke-width="1"/>
<rect x="977.31" y="167.5" width="4.8" height="11.7" fill="#48b4c0"/>
<line x1="986.12" y1="172.2" x2="986.12" y2="175.1" stroke="#e62c44" stroke-width="1"/>
<line x1="986.12" y1="181.6" x2="986.12" y2="187.4" stroke="#e62c44" stroke-width="1"/>
<rect x="984.22" y="175.6" width="3.8" height="5.5" fill="none" stroke="#e62c44" stroke-width="1"/>
<line x1="992.52" y1="179.8" x2="992.52" y2="189.8" stroke="#48b4c0" stroke-width="1"/>
<rect x="990.12" y="183.9" width="4.8" height="5.9" fill="#48b4c0"/>
<line x1="998.93" y1="184.5" x2="998.93" y2="192.7" stroke="#e62c44" stroke-width="1"/>
<rect x="996.53" y="189.8" width="4.8" height="1.7" fill="#e62c44"/>
<line x1="1005.34" y1="147.0" x2="1005.34" y2="158.8" stroke="#e62c44" stroke-width="1"/>
<line x1="1005.34" y1="189.2" x2="1005.34" y2="193.9" stroke="#e62c44" stroke-width="1"/>
<rect x="1003.44" y="159.3" width="3.8" height="29.4" fill="none" stroke="#e62c44" stroke-width="1"/>
<line x1="1011.74" y1="114.7" x2="1011.74" y2="132.0" stroke="#e62c44" stroke-width="1"/>
<line x1="1011.74" y1="160.8" x2="1011.74" y2="162.0" stroke="#e62c44" stroke-width="1"/>
<rect x="1009.84" y="132.5" width="3.8" height="27.8" fill="none" stroke="#e62c44" stroke-width="1"/>
<line x1="1018.15" y1="131.3" x2="1018.15" y2="139.2" stroke="#e62c44" stroke-width="1"/>
<line x1="1018.15" y1="145.3" x2="1018.15" y2="153.7" stroke="#e62c44" stroke-width="1"/>
<rect x="1016.25" y="139.7" width="3.8" height="5.1" fill="none" stroke="#e62c44" stroke-width="1"/>
<line x1="1024.55" y1="120.8" x2="1024.55" y2="133.3" stroke="#e62c44" stroke-width="1"/>
<line x1="1024.55" y1="140.8" x2="1024.55" y2="145.8" stroke="#e62c44" stroke-width="1"/>
<rect x="1022.65" y="133.8" width="3.8" height="6.5" fill="none" stroke="#e62c44" stroke-width="1"/>
<polyline points="5.6,278.6 18.5,279.6 24.0,280.5 37.0,281.0 52.0,281.4 65.0,281.7 74.0,282.4 80.0,283.0 93.0,283.6 100.0,284.4 110.3,286.0 130.8,286.8 150.2,286.8 150.7,286.0 195.0,286.3 220.0,286.3 221.0,285.5 258.3,285.3 266.5,283.5 272.6,282.6 305.0,281.4 328.6,281.6 330.6,282.2 340.9,282.2 342.9,281.4 361.3,281.6 362.3,282.4 384.0,281.8 390.4,281.8 396.8,281.9 403.2,281.8 409.6,281.6 416.0,281.5 422.4,281.5 428.8,281.7 435.2,281.7 441.6,281.9 448.0,282.1 454.4,281.9 460.8,281.8 467.2,281.7 473.6,281.6 480.0,281.5 486.4,281.4 492.9,281.2 499.3,281.1 505.7,280.9 512.1,280.7 518.5,280.8 524.9,281.1 531.3,281.5 537.7,281.9 544.1,282.4 550.5,282.7 556.9,282.9 563.3,282.8 569.7,282.2 576.1,281.9 582.5,281.3 588.9,281.0 595.4,280.6 601.8,279.9 608.2,279.4 614.6,277.7 621.0,275.8 627.4,274.2 633.8,272.6 640.2,271.0 646.6,269.2 653.0,267.2 659.4,264.9 665.8,262.5 672.2,260.2 678.6,258.0 685.0,255.8 691.4,253.7 697.8,251.3 704.3,248.6 710.7,245.8 717.1,242.7 723.5,239.8 729.9,237.3 736.3,235.0 742.7,232.7 749.1,230.3 755.5,228.0 761.9,225.6 768.3,223.9 774.7,222.0 781.1,219.8 787.5,217.8 793.9,215.2 800.3,212.8 806.8,210.1 813.2,207.0 819.6,203.9 826.0,200.6 832.4,197.5 838.8,194.2 845.2,190.9 851.6,187.9 858.0,185.4 864.4,182.9 870.8,179.8 877.2,177.3 883.6,174.9 890.0,173.3 896.4,171.6 902.8,169.8 909.2,168.1 915.7,166.4 922.1,164.6 928.5,162.2 934.9,160.0 941.3,158.0 947.7,156.2 954.1,154.7 960.5,153.6 966.9,152.6 973.3,151.4 979.7,150.5 986.1,149.9 992.5,149.5 998.9,149.3 1005.3,148.4 1011.7,147.1 1018.1,145.8 1024.6,144.6" fill="none" stroke="#bcbcbc" stroke-width="1.2" stroke-linejoin="round"/>
<polyline points="5.6,300.0 13.9,300.9 24.0,303.2 31.5,303.4 41.7,300.9 55.6,298.6 69.4,295.8 81.5,293.0 92.6,290.3 100.0,288.3 110.3,286.3 125.6,284.2 141.0,280.1 158.3,275.5 187.0,274.3 191.8,273.0 198.2,272.2 204.6,271.5 211.0,270.5 217.4,269.3 223.8,267.8 230.2,268.9 236.6,270.2 243.0,271.0 249.4,272.0 255.8,272.9 262.2,273.0 268.6,273.2 275.1,273.4 281.5,274.1 287.9,275.1 294.3,275.8 300.7,276.3 307.1,277.0 313.5,277.8 319.9,278.7 326.3,280.4 332.7,282.6 339.1,284.7 345.5,286.3 351.9,287.6 358.3,288.4 364.7,289.5 371.1,290.2 377.5,290.8 384.0,290.7 390.4,291.4 396.8,292.4 403.2,293.0 409.6,293.9 416.0,295.1 422.4,294.1 428.8,293.2 435.2,292.4 441.6,291.8 448.0,291.3 454.4,290.9 460.8,290.5 467.2,290.0 473.6,289.0 480.0,287.9 486.4,287.1 492.9,286.0 499.3,285.1 505.7,284.0 512.1,282.7 518.5,281.2 524.9,279.6 531.3,278.3 537.7,277.4 544.1,277.2 550.5,277.1 556.9,276.4 563.3,275.3 569.7,273.5 576.1,273.0 582.5,271.3 588.9,269.7 595.4,268.3 601.8,265.9 608.2,263.7 614.6,261.2 621.0,258.5 627.4,255.9 633.8,253.5 640.2,250.6 646.6,247.5 653.0,244.0 659.4,239.8 665.8,235.9 672.2,232.4 678.6,228.9 685.0,225.6 691.4,222.2 697.8,218.6 704.3,214.6 710.7,210.3 717.1,205.7 723.5,201.4 729.9,197.2 736.3,192.8 742.7,188.3 749.1,184.3 755.5,180.7 761.9,177.7 768.3,174.8 774.7,172.7 781.1,170.0 787.5,167.3 793.9,164.4 800.3,162.0 806.8,158.9 813.2,155.5 819.6,151.9 826.0,147.8 832.4,144.3 838.8,140.9 845.2,137.8 851.6,136.0 858.0,134.9 864.4,133.4 870.8,130.7 877.2,128.9 883.6,127.7 890.0,127.9 896.4,128.6 902.8,129.4 909.2,130.6 915.7,131.4 922.1,132.0 928.5,131.6 934.9,131.6 941.3,131.7 947.7,131.6 954.1,131.7 960.5,132.4 966.9,132.6 973.3,132.8 979.7,133.6 986.1,135.3 992.5,137.1 998.9,139.7 1005.3,141.3 1011.7,142.3 1018.1,143.8 1024.6,144.9" fill="none" stroke="#2ea02e" stroke-width="1.2" stroke-linejoin="round"/>
<polyline points="5.6,301.8 18.5,295.3 27.8,292.0 37.0,289.8 46.3,287.4 55.6,286.0 64.8,285.4 83.3,284.7 95.0,282.5 111.3,282.5 127.7,281.9 134.1,280.9 140.5,279.1 146.9,276.5 153.3,274.3 159.7,272.4 166.2,271.8 172.6,271.0 179.0,269.9 185.4,269.6 191.8,268.6 198.2,266.4 204.6,264.3 211.0,262.6 217.4,261.2 223.8,259.7 230.2,261.2 236.6,263.1 243.0,264.9 249.4,266.5 255.8,268.3 262.2,270.5 268.6,273.6 275.1,276.6 281.5,279.7 287.9,282.3 294.3,284.0 300.7,285.7 307.1,287.2 313.5,288.6 319.9,290.6 326.3,293.1 332.7,295.8 339.1,297.8 345.5,299.8 351.9,302.1 358.3,301.0 364.7,299.8 371.1,298.7 377.5,297.9 384.0,295.3 390.4,294.1 396.8,293.1 403.2,292.1 409.6,290.9 416.0,289.7 422.4,288.8 428.8,288.4 435.2,288.0 441.6,287.5 448.0,287.2 454.4,286.2 460.8,285.5 467.2,284.6 473.6,283.8 480.0,282.8 486.4,282.1 492.9,280.6 499.3,279.6 505.7,278.4 512.1,278.5 518.5,277.8 524.9,276.6 531.3,275.7 537.7,275.0 544.1,275.2 550.5,275.4 556.9,274.7 563.3,273.1 569.7,270.4 576.1,267.8 582.5,264.7 588.9,261.9 595.4,259.5 601.8,256.3 608.2,253.4 614.6,250.0 621.0,247.2 627.4,244.2 633.8,241.7 640.2,239.1 646.6,235.6 653.0,232.0 659.4,226.9 665.8,221.5 672.2,215.6 678.6,209.8 685.0,204.3 691.4,199.9 697.8,196.1 704.3,190.9 710.7,186.4 717.1,180.7 723.5,175.4 729.9,171.9 736.3,168.9 742.7,166.0 749.1,163.3 755.5,160.3 761.9,156.8 768.3,154.1 774.7,152.4 781.1,150.9 787.5,150.7 793.9,149.1 800.3,147.7 806.8,145.0 813.2,142.0 819.6,138.7 826.0,135.5 832.4,133.7 838.8,131.5 845.2,130.2 851.6,128.7 858.0,127.9 864.4,126.4 870.8,123.4 877.2,121.3 883.6,120.4 890.0,121.3 896.4,121.6 902.8,121.5 909.2,121.5 915.7,121.6 922.1,123.2 928.5,123.3 934.9,125.2 941.3,127.5 947.7,129.9 954.1,132.6 960.5,136.2 966.9,140.0 973.3,143.3 979.7,147.2 986.1,149.8 992.5,153.3 998.9,158.3 1005.3,160.6 1011.7,160.6 1018.1,159.4 1024.6,158.1" fill="none" stroke="#cc3580" stroke-width="1.2" stroke-linejoin="round"/>
<polyline points="5.6,286.5 18.5,284.7 24.0,282.4 37.0,281.4 52.0,281.9 63.7,281.8 70.1,283.9 76.5,285.9 82.9,286.2 89.3,285.7 95.7,284.1 102.1,284.3 108.5,284.5 114.9,283.2 121.3,283.0 127.7,282.0 134.1,277.8 140.5,272.4 146.9,266.9 153.3,262.9 159.7,260.7 166.2,259.2 172.6,257.4 179.0,256.5 185.4,256.2 191.8,255.1 198.2,255.0 204.6,256.2 211.0,258.4 217.4,259.4 223.8,258.6 230.2,263.2 236.6,268.8 243.0,273.2 249.4,276.8 255.8,281.5 262.2,286.1 268.6,291.0 275.1,294.8 281.5,300.0 287.9,306.0 294.3,304.9 300.7,302.6 307.1,301.2 313.5,300.5 319.9,299.6 326.3,300.1 332.7,300.5 339.1,300.8 345.5,299.5 351.9,298.1 358.3,297.1 364.7,296.9 371.1,296.1 377.5,295.2 384.0,291.0 390.4,288.0 396.8,285.7 403.2,283.4 409.6,282.4 416.0,281.2 422.4,280.4 428.8,279.9 435.2,279.9 441.6,279.7 448.0,283.3 454.4,284.4 460.8,285.2 467.2,285.7 473.6,285.2 480.0,284.4 486.4,283.8 492.9,281.2 499.3,279.4 505.7,277.0 512.1,273.6 518.5,271.2 524.9,267.9 531.3,265.6 537.7,264.7 544.1,266.1 550.5,267.0 556.9,268.2 563.3,266.8 569.7,263.7 576.1,262.0 582.5,258.1 588.9,255.8 595.4,253.4 601.8,247.9 608.2,240.7 614.6,232.9 621.0,226.1 627.4,221.6 633.8,219.7 640.2,216.1 646.6,213.1 653.0,208.2 659.4,200.4 665.8,195.1 672.2,190.5 678.6,186.7 685.0,182.5 691.4,178.2 697.8,172.4 704.3,165.7 710.7,159.6 717.1,153.2 723.5,150.4 729.9,148.7 736.3,147.3 742.7,145.3 749.1,144.1 755.5,142.4 761.9,141.1 768.3,142.4 774.7,145.2 781.1,148.6 787.5,151.0 793.9,149.5 800.3,148.1 806.8,144.6 813.2,139.9 819.6,135.1 826.0,129.9 832.4,124.9 838.8,117.8 845.2,111.7 851.6,106.4 858.0,106.4 864.4,104.6 870.8,102.3 877.2,102.8 883.6,105.7 890.0,112.7 896.4,118.4 902.8,125.1 909.2,131.4 915.7,136.7 922.1,140.1 928.5,141.9 934.9,148.1 941.3,152.3 947.7,154.1 954.1,152.4 960.5,153.9 966.9,154.8 973.3,155.3 979.7,157.7 986.1,159.5 992.5,164.7 998.9,168.6 1005.3,169.0 1011.7,167.2 1018.1,166.4 1024.6,162.2" fill="none" stroke="#b0aa58" stroke-width="1.2" stroke-linejoin="round"/>
<polyline points="5.6,279.0 12.0,279.0 18.5,280.0 24.0,283.0 31.6,282.8 38.0,282.9 44.4,283.9 50.8,284.2 57.2,282.3 63.7,280.8 70.1,284.9 76.5,288.0 82.9,288.1 89.3,289.1 95.7,287.3 102.1,283.7 108.5,281.0 114.9,278.3 121.3,276.9 127.7,276.7 134.1,272.0 140.5,263.7 146.9,255.6 153.3,248.9 159.7,244.7 166.2,246.5 172.6,251.1 179.0,257.5 185.4,263.5 191.8,265.4 198.2,263.5 204.6,261.2 211.0,259.3 217.4,255.4 223.8,251.8 230.2,262.9 236.6,276.4 243.0,287.2 249.4,298.1 255.8,311.2 262.2,309.3 268.6,305.5 275.1,302.4 281.5,301.9 287.9,300.8 294.3,300.4 300.7,299.7 307.1,300.1 313.5,299.1 319.9,298.5 326.3,299.8 332.7,301.3 339.1,301.5 345.5,299.9 351.9,297.7 358.3,294.4 364.7,292.5 371.1,290.7 377.5,290.6 384.0,284.3 390.4,281.6 396.8,278.9 403.2,276.2 409.6,274.1 416.0,278.2 422.4,279.3 428.8,280.9 435.2,283.5 441.6,285.3 448.0,288.5 454.4,289.6 460.8,289.6 467.2,288.0 473.6,285.1 480.0,280.3 486.4,278.0 492.9,272.9 499.3,270.8 505.7,268.9 512.1,266.9 518.5,264.5 524.9,263.0 531.3,260.4 537.7,260.5 544.1,265.2 550.5,269.5 556.9,273.4 563.3,273.1 569.7,266.9 576.1,258.8 582.5,246.7 588.9,238.2 595.4,233.7 601.8,228.9 608.2,222.5 614.6,219.1 621.0,214.0 627.4,209.5 633.8,210.5 640.2,209.7 646.6,207.2 653.0,202.3 659.4,191.3 665.8,179.6 672.2,171.2 678.6,166.2 685.0,162.7 691.4,165.0 697.8,165.2 704.3,160.2 710.7,153.0 717.1,143.6 723.5,135.9 729.9,132.2 736.3,134.4 742.7,137.7 749.1,144.6 755.5,148.8 761.9,150.0 768.3,150.5 774.7,152.8 781.1,152.6 787.5,153.2 793.9,149.0 800.3,145.8 806.8,136.4 813.2,127.2 819.6,117.0 826.0,110.7 832.4,104.0 838.8,99.3 845.2,96.2 851.6,95.9 858.0,102.0 864.4,105.3 870.8,105.3 877.2,109.4 883.6,115.5 890.0,123.4 896.4,131.6 902.8,144.9 909.2,153.3 915.7,158.0 922.1,156.8 928.5,152.3 934.9,151.2 941.3,151.2 947.7,150.2 954.1,148.1 960.5,155.6 966.9,158.5 973.3,159.4 979.7,165.2 986.1,170.9 992.5,173.9 998.9,178.8 1005.3,178.5 1011.7,169.1 1018.1,161.9 1024.6,150.6" fill="none" stroke="#cacaca" stroke-width="1.2" stroke-linejoin="round"/>
<rect x="4.10" y="458.6" width="3.8" height="8.9" fill="none" stroke="#e62c44" stroke-width="1"/>
<rect x="10.01" y="455.8" width="4.8" height="12.2" fill="#48b4c0"/>
<rect x="16.41" y="456.6" width="4.8" height="11.4" fill="#48b4c0"/>
<rect x="23.32" y="458.6" width="3.8" height="8.9" fill="none" stroke="#e62c44" stroke-width="1"/>
<rect x="29.22" y="459.9" width="4.8" height="8.1" fill="#48b4c0"/>
<rect x="36.13" y="452.9" width="3.8" height="14.6" fill="none" stroke="#e62c44" stroke-width="1"/>
<rect x="42.54" y="457.8" width="3.8" height="9.7" fill="none" stroke="#e62c44" stroke-width="1"/>
<rect x="48.44" y="458.8" width="4.8" height="9.2" fill="#48b4c0"/>
<rect x="55.35" y="457.8" width="3.8" height="9.7" fill="none" stroke="#e62c44" stroke-width="1"/>
<rect x="61.75" y="455.9" width="3.8" height="11.6" fill="none" stroke="#e62c44" stroke-width="1"/>
<rect x="67.66" y="455.1" width="4.8" height="12.9" fill="#48b4c0"/>
<rect x="74.57" y="457.8" width="3.8" height="9.7" fill="none" stroke="#e62c44" stroke-width="1"/>
<rect x="80.97" y="461.3" width="3.8" height="6.2" fill="none" stroke="#e62c44" stroke-width="1"/>
<rect x="87.38" y="454.8" width="3.8" height="12.7" fill="none" stroke="#e62c44" stroke-width="1"/>
<rect x="93.78" y="452.9" width="3.8" height="14.6" fill="none" stroke="#e62c44" stroke-width="1"/>
<rect x="99.69" y="457.8" width="4.8" height="10.2" fill="#48b4c0"/>
<rect x="106.60" y="460.5" width="3.8" height="7.0" fill="none" stroke="#e62c44" stroke-width="1"/>
<rect x="113.00" y="459.8" width="3.8" height="7.7" fill="none" stroke="#e62c44" stroke-width="1"/>
<rect x="119.41" y="458.6" width="3.8" height="8.9" fill="none" stroke="#e62c44" stroke-width="1"/>
<rect x="125.81" y="458.6" width="3.8" height="8.9" fill="none" stroke="#e62c44" stroke-width="1"/>
<rect x="132.22" y="446.7" width="3.8" height="20.8" fill="none" stroke="#e62c44" stroke-width="1"/>
<rect x="138.63" y="441.1" width="3.8" height="26.4" fill="none" stroke="#e62c44" stroke-width="1"/>
<rect x="145.03" y="450.4" width="3.8" height="17.1" fill="none" stroke="#e62c44" stroke-width="1"/>
<rect x="150.94" y="443.2" width="4.8" height="24.8" fill="#48b4c0"/>
<rect x="157.34" y="452.9" width="4.8" height="15.1" fill="#48b4c0"/>
<rect x="163.75" y="454.3" width="4.8" height="13.7" fill="#48b4c0"/>
<rect x="170.16" y="455.8" width="4.8" height="12.2" fill="#48b4c0"/>
<rect x="176.56" y="461.8" width="4.8" height="6.2" fill="#48b4c0"/>
<rect x="182.97" y="457.8" width="4.8" height="10.2" fill="#48b4c0"/>
<rect x="189.87" y="449.6" width="3.8" height="17.9" fill="none" stroke="#e62c44" stroke-width="1"/>
<rect x="196.28" y="454.8" width="3.8" height="12.7" fill="none" stroke="#e62c44" stroke-width="1"/>
<rect x="202.69" y="443.7" width="3.8" height="23.8" fill="none" stroke="#e62c44" stroke-width="1"/>
<rect x="208.59" y="452.9" width="4.8" height="15.1" fill="#48b4c0"/>
<rect x="215.50" y="457.4" width="3.8" height="10.1" fill="none" stroke="#e62c44" stroke-width="1"/>
<rect x="221.90" y="449.6" width="3.8" height="17.9" fill="none" stroke="#e62c44" stroke-width="1"/>
<rect x="227.81" y="442.4" width="4.8" height="25.6" fill="#48b4c0"/>
<rect x="234.22" y="442.4" width="4.8" height="25.6" fill="#48b4c0"/>
<rect x="241.12" y="449.6" width="3.8" height="17.9" fill="none" stroke="#e62c44" stroke-width="1"/>
<rect x="247.03" y="455.1" width="4.8" height="12.9" fill="#48b4c0"/>
<rect x="253.93" y="460.4" width="3.8" height="7.1" fill="none" stroke="#e62c44" stroke-width="1"/>
<rect x="260.34" y="460.4" width="3.8" height="7.1" fill="none" stroke="#e62c44" stroke-width="1"/>
<rect x="266.25" y="461.3" width="4.8" height="6.7" fill="#48b4c0"/>
<rect x="273.15" y="456.8" width="3.8" height="10.7" fill="none" stroke="#e62c44" stroke-width="1"/>
<rect x="279.06" y="460.3" width="4.8" height="7.7" fill="#48b4c0"/>
<rect x="285.96" y="461.3" width="3.8" height="6.2" fill="none" stroke="#e62c44" stroke-width="1"/>
<rect x="292.37" y="461.3" width="3.8" height="6.2" fill="none" stroke="#e62c44" stroke-width="1"/>
<rect x="298.78" y="462.3" width="3.8" height="5.2" fill="none" stroke="#e62c44" stroke-width="1"/>
<rect x="304.68" y="461.0" width="4.8" height="7.0" fill="#48b4c0"/>
<rect x="311.59" y="461.5" width="3.8" height="6.0" fill="none" stroke="#e62c44" stroke-width="1"/>
<rect x="317.99" y="456.8" width="3.8" height="10.7" fill="none" stroke="#e62c44" stroke-width="1"/>
<rect x="323.90" y="456.9" width="4.8" height="11.1" fill="#48b4c0"/>
<rect x="330.81" y="460.4" width="3.8" height="7.1" fill="none" stroke="#e62c44" stroke-width="1"/>
<rect x="337.21" y="460.8" width="3.8" height="6.7" fill="none" stroke="#e62c44" stroke-width="1"/>
<rect x="343.62" y="457.8" width="3.8" height="9.7" fill="none" stroke="#e62c44" stroke-width="1"/>
<rect x="349.52" y="458.8" width="4.8" height="9.2" fill="#48b4c0"/>
<rect x="356.43" y="460.8" width="3.8" height="6.7" fill="none" stroke="#e62c44" stroke-width="1"/>
<rect x="362.34" y="461.3" width="4.8" height="6.7" fill="#48b4c0"/>
<rect x="369.24" y="456.8" width="3.8" height="10.7" fill="none" stroke="#e62c44" stroke-width="1"/>
<rect x="375.15" y="456.9" width="4.8" height="11.1" fill="#48b4c0"/>
<rect x="382.05" y="425.8" width="3.8" height="41.7" fill="none" stroke="#e62c44" stroke-width="1"/>
<rect x="387.96" y="443.9" width="4.8" height="24.1" fill="#48b4c0"/>
<rect x="394.37" y="453.9" width="4.8" height="14.1" fill="#48b4c0"/>
<rect x="401.27" y="456.3" width="3.8" height="11.2" fill="none" stroke="#e62c44" stroke-width="1"/>
<rect x="407.18" y="455.8" width="4.8" height="12.2" fill="#48b4c0"/>
<rect x="414.08" y="459.8" width="3.8" height="7.7" fill="none" stroke="#e62c44" stroke-width="1"/>
<rect x="419.99" y="459.9" width="4.8" height="8.1" fill="#48b4c0"/>
<rect x="426.40" y="458.1" width="4.8" height="9.9" fill="#48b4c0"/>
<rect x="433.30" y="461.3" width="3.8" height="6.2" fill="none" stroke="#e62c44" stroke-width="1"/>
<rect x="439.71" y="461.8" width="3.8" height="5.7" fill="none" stroke="#e62c44" stroke-width="1"/>
<rect x="445.61" y="461.8" width="4.8" height="6.2" fill="#48b4c0"/>
<rect x="452.52" y="460.8" width="3.8" height="6.7" fill="none" stroke="#e62c44" stroke-width="1"/>
<rect x="458.43" y="461.0" width="4.8" height="7.0" fill="#48b4c0"/>
<rect x="465.33" y="461.5" width="3.8" height="6.0" fill="none" stroke="#e62c44" stroke-width="1"/>
<rect x="471.74" y="457.8" width="3.8" height="9.7" fill="none" stroke="#e62c44" stroke-width="1"/>
<rect x="478.14" y="456.8" width="3.8" height="10.7" fill="none" stroke="#e62c44" stroke-width="1"/>
<rect x="484.05" y="460.3" width="4.8" height="7.7" fill="#48b4c0"/>
<rect x="490.96" y="456.8" width="3.8" height="10.7" fill="none" stroke="#e62c44" stroke-width="1"/>
<rect x="496.86" y="459.3" width="4.8" height="8.7" fill="#48b4c0"/>
<rect x="503.77" y="459.8" width="3.8" height="7.7" fill="none" stroke="#e62c44" stroke-width="1"/>
<rect x="510.17" y="459.8" width="3.8" height="7.7" fill="none" stroke="#e62c44" stroke-width="1"/>
<rect x="516.58" y="456.8" width="3.8" height="10.7" fill="none" stroke="#e62c44" stroke-width="1"/>
<rect x="522.99" y="458.9" width="3.8" height="8.6" fill="none" stroke="#e62c44" stroke-width="1"/>
<rect x="528.89" y="457.3" width="4.8" height="10.7" fill="#48b4c0"/>
<rect x="535.30" y="458.4" width="4.8" height="9.6" fill="#48b4c0"/>
<rect x="541.70" y="456.3" width="4.8" height="11.7" fill="#48b4c0"/>
<rect x="548.11" y="458.4" width="4.8" height="9.6" fill="#48b4c0"/>
<rect x="555.02" y="459.8" width="3.8" height="7.7" fill="none" stroke="#e62c44" stroke-width="1"/>
<rect x="561.42" y="449.6" width="3.8" height="17.9" fill="none" stroke="#e62c44" stroke-width="1"/>
<rect x="567.83" y="440.4" width="3.8" height="27.1" fill="none" stroke="#e62c44" stroke-width="1"/>
<rect x="573.73" y="447.9" width="4.8" height="20.1" fill="#48b4c0"/>
<rect x="580.64" y="405.7" width="3.8" height="61.8" fill="none" stroke="#e62c44" stroke-width="1"/>
<rect x="586.55" y="436.0" width="4.8" height="32.0" fill="#48b4c0"/>
<rect x="593.45" y="447.7" width="3.8" height="19.8" fill="none" stroke="#e62c44" stroke-width="1"/>
<rect x="599.86" y="423.9" width="3.8" height="43.6" fill="none" stroke="#e62c44" stroke-width="1"/>
<rect x="606.26" y="443.9" width="3.8" height="23.6" fill="none" stroke="#e62c44" stroke-width="1"/>
<rect x="612.67" y="432.9" width="3.8" height="34.6" fill="none" stroke="#e62c44" stroke-width="1"/>
<rect x="619.08" y="445.9" width="3.8" height="21.6" fill="none" stroke="#e62c44" stroke-width="1"/>
<rect x="625.48" y="445.9" width="3.8" height="21.6" fill="none" stroke="#e62c44" stroke-width="1"/>
<rect x="631.39" y="450.0" width="4.8" height="18.0" fill="#48b4c0"/>
<rect x="638.29" y="450.5" width="3.8" height="17.0" fill="none" stroke="#e62c44" stroke-width="1"/>
<rect x="644.70" y="426.9" width="3.8" height="40.6" fill="none" stroke="#e62c44" stroke-width="1"/>
<rect x="650.61" y="380.0" width="4.8" height="88.0" fill="#48b4c0"/>
<rect x="657.51" y="380.5" width="3.8" height="87.0" fill="none" stroke="#e62c44" stroke-width="1"/>
<rect x="663.92" y="404.9" width="3.8" height="62.6" fill="none" stroke="#e62c44" stroke-width="1"/>
<rect x="670.32" y="424.5" width="3.8" height="43.0" fill="none" stroke="#e62c44" stroke-width="1"/>
<rect x="676.23" y="435.6" width="4.8" height="32.4" fill="#48b4c0"/>
<rect x="683.14" y="432.9" width="3.8" height="34.6" fill="none" stroke="#e62c44" stroke-width="1"/>
<rect x="689.54" y="437.5" width="3.8" height="30.0" fill="none" stroke="#e62c44" stroke-width="1"/>
<rect x="695.95" y="405.9" width="3.8" height="61.6" fill="none" stroke="#e62c44" stroke-width="1"/>
<rect x="702.35" y="412.9" width="3.8" height="54.6" fill="none" stroke="#e62c44" stroke-width="1"/>
<rect x="708.76" y="414.5" width="3.8" height="53.0" fill="none" stroke="#e62c44" stroke-width="1"/>
<rect x="715.17" y="423.9" width="3.8" height="43.6" fill="none" stroke="#e62c44" stroke-width="1"/>
<rect x="721.57" y="433.9" width="3.8" height="33.6" fill="none" stroke="#e62c44" stroke-width="1"/>
<rect x="727.48" y="440.0" width="4.8" height="28.0" fill="#48b4c0"/>
<rect x="733.88" y="431.6" width="4.8" height="36.4" fill="#48b4c0"/>
<rect x="740.79" y="440.5" width="3.8" height="27.0" fill="none" stroke="#e62c44" stroke-width="1"/>
<rect x="747.20" y="448.5" width="3.8" height="19.0" fill="none" stroke="#e62c44" stroke-width="1"/>
<rect x="753.60" y="450.5" width="3.8" height="17.0" fill="none" stroke="#e62c44" stroke-width="1"/>
<rect x="760.01" y="451.5" width="3.8" height="16.0" fill="none" stroke="#e62c44" stroke-width="1"/>
<rect x="765.91" y="447.0" width="4.8" height="21.0" fill="#48b4c0"/>
<rect x="772.32" y="450.4" width="4.8" height="17.6" fill="#48b4c0"/>
<rect x="779.23" y="451.5" width="3.8" height="16.0" fill="none" stroke="#e62c44" stroke-width="1"/>
<rect x="785.13" y="451.6" width="4.8" height="16.4" fill="#48b4c0"/>
<rect x="792.04" y="411.9" width="3.8" height="55.6" fill="none" stroke="#e62c44" stroke-width="1"/>
<rect x="797.94" y="428.4" width="4.8" height="39.6" fill="#48b4c0"/>
<rect x="804.85" y="417.9" width="3.8" height="49.6" fill="none" stroke="#e62c44" stroke-width="1"/>
<rect x="810.76" y="419.4" width="4.8" height="48.6" fill="#48b4c0"/>
<rect x="817.66" y="427.9" width="3.8" height="39.6" fill="none" stroke="#e62c44" stroke-width="1"/>
<rect x="824.07" y="435.9" width="3.8" height="31.6" fill="none" stroke="#e62c44" stroke-width="1"/>
<rect x="829.97" y="443.0" width="4.8" height="25.0" fill="#48b4c0"/>
<rect x="836.88" y="434.9" width="3.8" height="32.6" fill="none" stroke="#e62c44" stroke-width="1"/>
<rect x="842.79" y="424.0" width="4.8" height="44.0" fill="#48b4c0"/>
<rect x="849.19" y="445.0" width="4.8" height="23.0" fill="#48b4c0"/>
<rect x="855.60" y="437.0" width="4.8" height="31.0" fill="#48b4c0"/>
<rect x="862.00" y="429.6" width="4.8" height="38.4" fill="#48b4c0"/>
<rect x="868.91" y="388.9" width="3.8" height="78.6" fill="none" stroke="#e62c44" stroke-width="1"/>
<rect x="874.82" y="417.0" width="4.8" height="51.0" fill="#48b4c0"/>
<rect x="881.22" y="433.0" width="4.8" height="35.0" fill="#48b4c0"/>
<rect x="887.63" y="435.0" width="4.8" height="33.0" fill="#48b4c0"/>
<rect x="894.53" y="442.1" width="3.8" height="25.4" fill="none" stroke="#e62c44" stroke-width="1"/>
<rect x="900.94" y="446.5" width="3.8" height="21.0" fill="none" stroke="#e62c44" stroke-width="1"/>
<rect x="907.35" y="446.5" width="3.8" height="21.0" fill="none" stroke="#e62c44" stroke-width="1"/>
<rect x="913.75" y="451.5" width="3.8" height="16.0" fill="none" stroke="#e62c44" stroke-width="1"/>
<rect x="919.66" y="455.0" width="4.8" height="13.0" fill="#48b4c0"/>
<rect x="926.56" y="442.1" width="3.8" height="25.4" fill="none" stroke="#e62c44" stroke-width="1"/>
<rect x="932.47" y="449.6" width="4.8" height="18.4" fill="#48b4c0"/>
<rect x="938.88" y="454.0" width="4.8" height="14.0" fill="#48b4c0"/>
<rect x="945.78" y="451.5" width="3.8" height="16.0" fill="none" stroke="#e62c44" stroke-width="1"/>
<rect x="952.19" y="452.1" width="3.8" height="15.4" fill="none" stroke="#e62c44" stroke-width="1"/>
<rect x="958.09" y="439.0" width="4.8" height="29.0" fill="#48b4c0"/>
<rect x="965.00" y="438.9" width="3.8" height="28.6" fill="none" stroke="#e62c44" stroke-width="1"/>
<rect x="971.41" y="450.5" width="3.8" height="17.0" fill="none" stroke="#e62c44" stroke-width="1"/>
<rect x="977.31" y="447.0" width="4.8" height="21.0" fill="#48b4c0"/>
<rect x="984.22" y="452.1" width="3.8" height="15.4" fill="none" stroke="#e62c44" stroke-width="1"/>
<rect x="990.12" y="448.4" width="4.8" height="19.6" fill="#48b4c0"/>
<rect x="997.03" y="457.5" width="3.8" height="10.0" fill="none" stroke="#e62c44" stroke-width="1"/>
<rect x="1003.44" y="435.9" width="3.8" height="31.6" fill="none" stroke="#e62c44" stroke-width="1"/>
<rect x="1009.84" y="414.5" width="3.8" height="53.0" fill="none" stroke="#e62c44" stroke-width="1"/>
<rect x="1016.25" y="431.9" width="3.8" height="35.6" fill="none" stroke="#e62c44" stroke-width="1"/>
<rect x="1022.65" y="438.9" width="3.8" height="28.6" fill="none" stroke="#e62c44" stroke-width="1"/>
<polyline points="5.5,453.9 27.8,453.9 28.9,455.5 34.4,455.6 35.6,456.6 50.0,456.9 63.7,457.0 70.1,456.7 76.5,456.8 82.9,457.2 89.3,456.9 95.7,456.1 102.1,456.6 108.5,456.9 114.9,457.0 121.3,457.1 127.7,457.3 134.1,456.4 140.5,454.8 146.9,453.7 153.3,452.6 159.7,452.6 166.2,452.3 172.6,451.8 179.0,452.1 185.4,452.1 191.8,451.2 198.2,452.0 204.6,452.2 211.0,452.5 217.4,453.9 223.8,453.5 230.2,452.3 236.6,451.0 243.0,449.7 249.4,449.4 255.8,450.5 262.2,451.1 268.6,452.9 275.1,453.2 281.5,453.6 287.9,454.8 294.3,456.6 300.7,458.5 307.1,459.7 313.5,460.3 319.9,459.9 326.3,459.6 332.7,459.5 339.1,459.9 345.5,459.6 351.9,459.4 358.3,459.4 364.7,459.3 371.1,458.8 377.5,458.4 384.0,455.3 390.4,454.0 396.8,453.4 403.2,453.0 409.6,452.8 416.0,452.9 422.4,452.8 428.8,452.5 435.2,453.0 441.6,453.4 448.0,457.1 454.4,458.7 460.8,459.4 467.2,459.9 473.6,460.1 480.0,459.8 486.4,459.8 492.9,459.6 499.3,459.5 505.7,459.3 512.1,459.0 518.5,458.6 524.9,458.4 531.3,458.0 537.7,458.1 544.1,458.1 550.5,457.9 556.9,458.2 563.3,457.2 569.7,455.3 576.1,454.1 582.5,449.0 588.9,446.8 595.4,445.8 601.8,442.3 608.2,441.0 614.6,438.4 621.0,437.0 627.4,436.6 633.8,437.6 640.2,437.8 646.6,440.0 653.0,434.4 659.4,427.6 665.8,425.7 672.2,423.8 678.6,424.1 685.0,422.8 691.4,422.0 697.8,417.5 704.3,413.8 710.7,412.5 717.1,416.9 723.5,422.2 729.9,425.8 736.3,426.5 742.7,427.0 749.1,428.5 755.5,429.8 761.9,434.4 768.3,437.8 774.7,441.5 781.1,444.2 787.5,446.1 793.9,443.2 800.3,442.9 806.8,440.6 813.2,437.8 819.6,435.5 826.0,433.9 832.4,433.5 838.8,431.9 845.2,429.2 851.6,428.6 858.0,431.1 864.4,431.3 870.8,428.4 877.2,428.1 883.6,428.7 890.0,428.6 896.4,428.5 902.8,429.7 909.2,431.9 915.7,432.5 922.1,434.3 928.5,435.5 934.9,441.6 941.3,445.3 947.7,447.1 954.1,448.7 960.5,448.5 966.9,447.7 973.3,448.1 979.7,447.7 986.1,447.4 992.5,448.1 998.9,448.8 1005.3,446.9 1011.7,443.2 1018.1,441.2 1024.6,441.2" fill="none" stroke="#d8d8d8" stroke-width="1.2" stroke-linejoin="round"/>
<polyline points="5.5,455.4 14.9,455.4 16.0,456.5 28.0,456.6 29.8,458.4 31.6,457.7 38.0,456.6 44.4,456.9 50.8,457.3 57.2,457.1 63.7,456.2 70.1,456.8 76.5,456.8 82.9,457.2 89.3,456.6 95.7,456.0 102.1,456.5 108.5,457.1 114.9,456.8 121.3,457.5 127.7,458.7 134.1,456.3 140.5,452.5 146.9,450.6 153.3,447.6 159.7,446.6 166.2,448.2 172.6,451.2 179.0,453.6 185.4,456.5 191.8,455.8 198.2,455.8 204.6,453.2 211.0,451.5 217.4,451.3 223.8,451.3 230.2,448.9 236.6,448.7 243.0,448.0 249.4,447.6 255.8,449.8 262.2,453.3 268.6,457.1 275.1,458.5 281.5,459.5 287.9,459.7 294.3,459.9 300.7,460.0 307.1,460.9 313.5,461.1 319.9,460.2 326.3,459.4 332.7,459.0 339.1,458.9 345.5,458.1 351.9,458.6 358.3,459.3 364.7,459.6 371.1,458.8 377.5,458.7 384.0,452.0 390.4,448.7 396.8,447.3 403.2,447.2 409.6,446.9 416.0,453.7 422.4,456.9 428.8,457.8 435.2,458.8 441.6,459.9 448.0,460.4 454.4,460.5 460.8,461.0 467.2,461.1 473.6,460.3 480.0,459.2 486.4,459.2 492.9,458.2 499.3,457.9 505.7,458.3 512.1,458.9 518.5,458.1 524.9,458.5 531.3,458.1 537.7,457.9 544.1,457.3 550.5,457.8 556.9,457.9 563.3,456.3 569.7,452.6 576.1,450.9 582.5,440.3 588.9,435.6 595.4,435.2 601.8,431.9 608.2,431.0 614.6,436.5 621.0,438.4 627.4,438.0 633.8,443.3 640.2,444.6 646.6,443.4 653.0,430.4 659.4,417.3 665.8,408.2 672.2,403.0 678.6,404.8 685.0,415.3 691.4,426.7 697.8,426.9 704.3,424.6 710.7,420.2 717.1,418.4 723.5,417.7 729.9,424.6 736.3,428.5 742.7,433.7 749.1,438.6 755.5,441.9 761.9,444.1 768.3,447.2 774.7,449.3 781.1,449.9 787.5,450.2 793.9,442.3 800.3,438.6 806.8,432.0 813.2,425.6 819.6,420.8 826.0,425.6 832.4,428.5 838.8,431.9 845.2,432.8 851.6,436.4 858.0,436.7 864.4,434.0 870.8,424.8 877.2,423.4 883.6,421.0 890.0,420.6 896.4,423.0 902.8,434.5 909.2,440.3 915.7,443.9 922.1,447.9 928.5,447.9 934.9,448.6 941.3,450.2 947.7,450.2 954.1,449.6 960.5,449.0 966.9,446.8 973.3,446.0 979.7,445.2 986.1,445.2 992.5,447.1 998.9,450.8 1005.3,447.9 1011.7,441.3 1018.1,437.2 1024.6,435.2" fill="none" stroke="#bdb73c" stroke-width="1.2" stroke-linejoin="round"/>
<polygon points="64.4,20.8 67.9,24.3 64.4,27.8 60.900000000000006,24.3" fill="#48b4c0"/>
<polygon points="320.6,20.8 324.1,24.3 320.6,27.8 317.1,24.3" fill="#48b4c0"/>
<polygon points="653.9,20.8 657.4,24.3 653.9,27.8 650.4,24.3" fill="#48b4c0"/>
<polygon points="698.6,20.8 702.1,24.3 698.6,27.8 695.1,24.3" fill="#48b4c0"/>
<polygon points="705,20.8 708.5,24.3 705,27.8 701.5,24.3" fill="#48b4c0"/>
<polygon points="711.4,20.8 714.9,24.3 711.4,27.8 707.9,24.3" fill="#48b4c0"/>
<polygon points="717.8,20.8 721.3,24.3 717.8,27.8 714.3,24.3" fill="#48b4c0"/>
<polygon points="724.2,20.8 727.7,24.3 724.2,27.8 720.7,24.3" fill="#48b4c0"/>
<polygon points="730.8,20.8 734.3,24.3 730.8,27.8 727.3,24.3" fill="#48b4c0"/>
<polygon points="737.2,20.8 740.7,24.3 737.2,27.8 733.7,24.3" fill="#48b4c0"/>
<polygon points="743.7,20.8 747.2,24.3 743.7,27.8 740.2,24.3" fill="#48b4c0"/>
<polygon points="865.5,20.8 869.0,24.3 865.5,27.8 862.0,24.3" fill="#48b4c0"/>
<line x1="873" y1="55.4" x2="882.4" y2="55.4" stroke="#d8d8d8" stroke-width="1"/>
<polygon points="870.4,55.4 874,53 874,57.8" fill="#d8d8d8"/>
<line x1="245" y1="344" x2="254.4" y2="344" stroke="#c0c0c0" stroke-width="1"/>
<polygon points="242.5,344 246,341.6 246,346.4" fill="#c0c0c0"/>
<rect x="1043.5" y="455.5" width="23" height="12.5" fill="none" stroke="#3a3c44" stroke-width="1"/>
<rect x="1027.5" y="33.3" width="9" height="5.9" rx="1" fill="none" stroke="#a8a8a8" stroke-width="1"/>
<circle cx="1032" cy="36.2" r="0.8" fill="#a8a8a8"/>
<path d="M1029.3,31.2 C1029.3,28.3 1034.8,28.3 1034.8,31.2 L1034.8,33.3" fill="none" stroke="#a8a8a8" stroke-width="1"/>
<rect x="888" y="37.9" width="136" height="1.5" fill="#8c8c8c"/>
</svg>
<div class="a cj" style="left:1.2px;top:6px;color:#c8c8c8">日线</div>
<div class="a cj" style="left:30.5px;top:6px;color:#e6e6e6">华西证券</div>
<div class="a m" style="left:78px;top:6.5px;color:#d6d6d6">MA5:</div>
<div class="a m" style="left:105.3px;top:6.5px;color:#d6d6d6">8.76</div>
<div class="a m" style="left:131.5px;top:6.5px;color:#c3bd62">MA10:</div>
<div class="a m" style="left:163.5px;top:6.5px;color:#c3bd62">8.58</div>
<div class="a m" style="left:190.1px;top:6.5px;color:#d9388a">MA20:</div>
<div class="a m" style="left:222.5px;top:6.5px;color:#d9388a">8.43</div>
<div class="a m" style="left:248.7px;top:6.5px;color:#2fb02f">MA30:</div>
<div class="a m" style="left:281.1px;top:6.5px;color:#2fb02f">8.40</div>
<div class="a m" style="left:307px;top:6.5px;color:#c8c8c8">MA60:</div>
<div class="a m" style="left:339.5px;top:6.5px;color:#c8c8c8">8.27</div>
<div class="a m" style="left:1044.8px;top:16.5px;color:#e0304a;transform:scaleX(0.75)">11.49</div>
<div class="a m" style="left:1044.8px;top:99.5px;color:#e0304a;transform:scaleX(0.75)">10.66</div>
<div class="a m" style="left:1044.8px;top:163.5px;color:#e0304a;transform:scaleX(0.75)">9.82</div>
<div class="a m" style="left:1044.8px;top:227.5px;color:#e0304a;transform:scaleX(0.75)">8.99</div>
<div class="a m" style="left:1044.8px;top:291.5px;color:#e0304a;transform:scaleX(0.75)">8.16</div>
<div class="a m" style="left:1044.8px;top:375.5px;color:#e0304a;transform:scaleX(0.75)">15969</div>
<div class="a m" style="left:1044.8px;top:419.5px;color:#e0304a;transform:scaleX(0.75)">7985</div>
<div class="a m" style="left:1044.8px;top:457.3px;color:#e0304a;transform:scaleX(0.75)">X100</div>
<div class="a m" style="left:883.5px;top:50.5px;color:#d8d8d8">11.28</div>
<div class="a m" style="left:255px;top:339.5px;color:#c0c0c0">7.52</div>
<div class="a cj" style="left:1.5px;top:364px;color:#48b4c0">总手</div>
<div class="a m" style="left:22.8px;top:364.5px;color:#48b4c0">:</div>
<div class="a m" style="left:34.4px;top:364.5px;color:#48b4c0">432730</div>
<div class="a m" style="left:71px;top:364.5px;color:#bdb73c">MAVOL5:</div>
<div class="a m" style="left:115px;top:364.5px;color:#bdb73c">356881</div>
<div class="a m" style="left:151.5px;top:364.5px;color:#d6d6d6">MAVOL10:</div>
<div class="a m" style="left:200.4px;top:364.5px;color:#d6d6d6">26.93</div>
<div class="a cj" style="left:227.5px;top:364px;color:#d6d6d6">万</div>
<div class="a" style="left:888px;top:27px;font-family:'Liberation Sans',sans-serif;font-size:11.5px;color:#f0f0f0;letter-spacing:0px;-webkit-text-stroke:0.25px #f0f0f0">20250214-20251010 (160)</div>
<div class="a" style="left:719.7px;top:347px;font-family:'Liberation Serif',serif;font-weight:bold;font-size:12.3px;color:#d04545">q</div>
</div></body></html>
